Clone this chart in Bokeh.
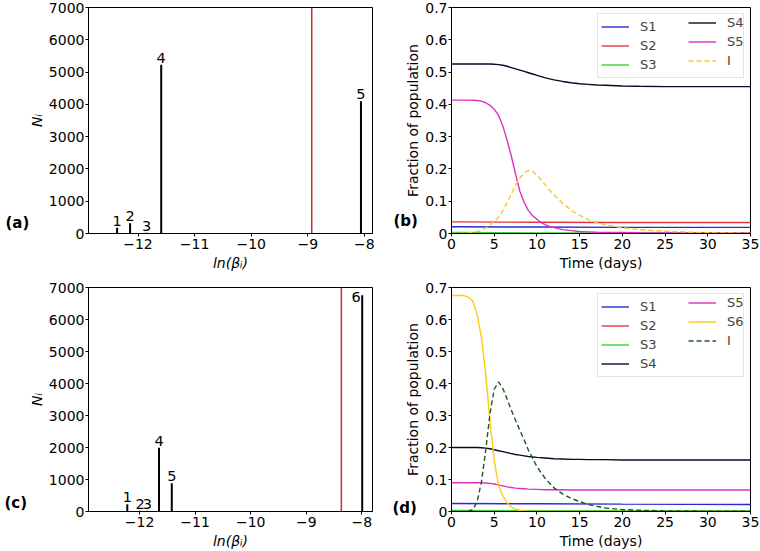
from bokeh.plotting import figure
from bokeh.layouts import gridplot
from bokeh.models import Span, Legend, LegendItem, FixedTicker, Range1d, Label
from bokeh.embed import file_html
from bokeh.resources import INLINE
from bokeh.core.properties import value

FONT = "DejaVu Sans"

# ---------------- data ----------------
# panel (a): stem plot
a_x = [-12.37, -12.14, -11.85, -11.59, -8.06]
a_n = [180, 320, 25, 5230, 4100]
a_lab = ["1", "2", "3", "4", "5"]
a_thr = -8.93

# panel (c): stem plot
c_x = [-12.22, -11.99, -11.86, -11.65, -11.42, -7.995]
c_n = [230, 20, 20, 1990, 880, 6760]
c_lab = ["1", "2", "3", "4", "5", "6"]
c_thr = -8.37

beta_ticks = [-12, -11, -10, -9, -8]
beta_tick_labels = ["\u221212", "\u221211", "\u221210", "\u22129", "\u22128"]
n_ticks = [0, 1000, 2000, 3000, 4000, 5000, 6000, 7000]

time_ticks = [0, 5, 10, 15, 20, 25, 30, 35]
frac_ticks = [0, 0.1, 0.2, 0.3, 0.4, 0.5, 0.6, 0.7]
frac_tick_labels = ["0", "0.1", "0.2", "0.3", "0.4", "0.5", "0.6", "0.7"]

# panel (b): time series
t_b = [0, 1, 2, 3, 3.5, 4, 4.5, 5, 5.5, 6, 6.5, 7, 7.5, 8, 8.5, 9, 9.5, 10,
       10.5, 11, 11.5, 12, 13, 14, 15, 16, 17, 18, 20, 22, 25, 28, 31, 35]
s4_b = [0.525, 0.525, 0.525, 0.525, 0.525, 0.525, 0.525, 0.524, 0.523, 0.521,
        0.518, 0.514, 0.510, 0.506, 0.502, 0.498, 0.494, 0.490, 0.486, 0.482,
        0.479, 0.476, 0.471, 0.467, 0.464, 0.462, 0.460, 0.459, 0.457, 0.456,
        0.455, 0.455, 0.455, 0.455]
s5_b = [0.413, 0.413, 0.413, 0.412, 0.410, 0.405, 0.397, 0.385, 0.366, 0.334,
        0.290, 0.240, 0.184, 0.131, 0.097, 0.071, 0.055, 0.044, 0.034, 0.027,
        0.022, 0.018, 0.012, 0.009, 0.006, 0.005, 0.004, 0.0035, 0.003, 0.0025,
        0.002, 0.002, 0.002, 0.002]
i_b = [0.0, 0.0005, 0.002, 0.006, 0.010, 0.017, 0.026, 0.037, 0.050, 0.070,
       0.095, 0.122, 0.150, 0.172, 0.188, 0.195, 0.192, 0.181, 0.166, 0.150,
       0.134, 0.120, 0.094, 0.072, 0.056, 0.043, 0.034, 0.027, 0.018, 0.012,
       0.007, 0.004, 0.002, 0.001]
t_flat = [0, 10, 20, 35]
s1_b = [0.021, 0.020, 0.019, 0.019]
s2_b = [0.036, 0.035, 0.034, 0.034]
s3_b = [0.003, 0.002, 0.002, 0.002]

# panel (d): time series
t_d = [0, 1, 1.5, 2, 2.5, 3, 3.5, 4, 4.5, 5, 5.5, 6, 6.5, 7, 7.5, 8, 8.5, 9,
       10, 11, 12, 13, 14, 15, 16, 17, 18, 20, 22, 25, 28, 31, 35]
s6_d = [0.675, 0.675, 0.674, 0.670, 0.657, 0.615, 0.545, 0.430, 0.282, 0.160,
        0.082, 0.050, 0.027, 0.014, 0.007, 0.004, 0.002, 0.001, 0.0005, 0.0,
        0.0, 0.0, 0.0, 0.0, 0.0, 0.0, 0.0, 0.0, 0.0, 0.0, 0.0, 0.0, 0.0]
i_d = [0.0, 0.0005, 0.001, 0.002, 0.006, 0.030, 0.092, 0.190, 0.305, 0.382,
       0.405, 0.385, 0.352, 0.317, 0.285, 0.254, 0.224, 0.192, 0.140, 0.102,
       0.074, 0.055, 0.041, 0.031, 0.022, 0.016, 0.011, 0.006, 0.004, 0.002,
       0.0015, 0.001, 0.001]
s4_d = [0.200, 0.200, 0.200, 0.200, 0.200, 0.200, 0.199, 0.198, 0.196, 0.193,
        0.190, 0.187, 0.184, 0.181, 0.178, 0.176, 0.174, 0.172, 0.169, 0.167,
        0.165, 0.164, 0.163, 0.163, 0.162, 0.162, 0.162, 0.161, 0.161, 0.161,
        0.161, 0.161, 0.161]
s5_d = [0.090, 0.090, 0.090, 0.090, 0.090, 0.090, 0.090, 0.089, 0.088, 0.086,
        0.083, 0.080, 0.077, 0.075, 0.073, 0.072, 0.071, 0.070, 0.069, 0.068,
        0.068, 0.068, 0.067, 0.067, 0.067, 0.067, 0.067, 0.067, 0.067, 0.067,
        0.067, 0.067, 0.067]
s1_d = [0.025, 0.024, 0.023, 0.022]
s2_d = [0.002, 0.0015, 0.0015, 0.0015]
s3_d = [0.003, 0.0025, 0.0025, 0.0025]

# ---------------- styling ----------------
C_S1 = "#2a2ad4"
C_S2 = "#e83434"
C_S3 = "#3ccf3c"
C_S4 = "#0a0a28"
C_S5 = "#de30bf"
C_IB = "#f7c62a"
C_S6 = "#ffcc11"
C_ID = "#1e5a1e"
C_THR = "#d42a2a"


def style(p):
    for ax in (p.xaxis[0], p.yaxis[0]):
        ax.major_tick_out = 3
        ax.major_tick_in = 0
        ax.minor_tick_out = 0
        ax.minor_tick_in = 0
        ax.major_label_text_font = FONT
        ax.major_label_text_font_size = "14px"
        ax.major_label_text_color = "black"
        ax.axis_label_text_font = FONT
        ax.axis_label_text_font_size = "14px"
        ax.axis_label_text_color = "black"
        ax.axis_label_text_font_style = "normal"
        ax.axis_line_color = "black"
        ax.major_tick_line_color = "black"
        ax.major_label_standoff = 2
        ax.axis_label_standoff = 3
    p.yaxis.major_label_standoff = 1
    p.yaxis.axis_label_standoff = 1
    p.xgrid.visible = False
    p.ygrid.visible = False
    p.outline_line_color = "black"
    p.background_fill_color = "white"
    p.border_fill_color = "white"


def make_fig(width, height, xr, yr, borders):
    bl, br, bt, bb = borders
    p = figure(width=width, height=height, x_range=Range1d(*xr),
               y_range=Range1d(*yr), output_backend="svg",
               toolbar_location=None, min_border_left=bl, min_border_right=br,
               min_border_top=bt, min_border_bottom=bb)
    style(p)
    return p


def panel_tag(p, txt, xr, yr, width, height, borders, dx_px, dy_px):
    # bold panel tag in the left border: left edge dx_px left of the frame,
    # middle dy_px above the frame bottom
    bl, br, bt, bb = borders
    fw = width - bl - br
    fh = height - bt - bb
    x = xr[0] - dx_px * (xr[1] - xr[0]) / fw
    y = yr[0] + dy_px * (yr[1] - yr[0]) / fh
    p.add_layout(Label(x=x, y=y, x_units="data", y_units="data", text=txt,
                       text_font=FONT, text_font_style="bold",
                       text_font_size="15px", text_color="black",
                       text_baseline="middle", text_align="left"), "left")


def stem_panel(xs, ns, labs, thr, xr, width, height, borders, special_last=False):
    p = make_fig(width, height, xr, (0, 7000), borders)
    p.segment(x0=xs, y0=[0] * len(xs), x1=xs, y1=ns, line_width=2, line_color="black")
    p.add_layout(Span(location=thr, dimension="height", line_color=C_THR, line_width=1.5))
    n_norm = len(xs) - 1 if special_last else len(xs)
    p.text(x=xs[:n_norm], y=ns[:n_norm], text=labs[:n_norm], text_align="center",
           text_baseline="bottom", y_offset=-2, text_font=value(FONT),
           text_font_size="14.5px", text_color="black")
    if special_last:
        p.text(x=xs[n_norm:], y=ns[n_norm:], text=labs[n_norm:], text_align="center",
               text_baseline="bottom", x_offset=-6, y_offset=7, text_font=value(FONT),
               text_font_size="14.5px", text_color="black")
    p.xaxis.ticker = FixedTicker(ticks=beta_ticks)
    p.xaxis.major_label_overrides = dict(zip(beta_ticks, beta_tick_labels))
    p.yaxis.ticker = FixedTicker(ticks=n_ticks)
    p.xaxis.axis_label = "ln(\u03b2\u1d62)"
    p.yaxis.axis_label = "N\u1d62"
    p.xaxis.axis_label_text_font_style = "italic"
    p.yaxis.axis_label_text_font_style = "italic"
    return p


def legend(items, label_width, boxed):
    return Legend(items=items, location="top_right", orientation="vertical",
                  label_text_font=FONT, label_text_font_size="13px",
                  glyph_width=28, glyph_height=19, label_standoff=11,
                  label_width=label_width, label_height=19, spacing=0,
                  padding=3, margin=6,
                  border_line_color="#cccccc" if boxed else None,
                  border_line_width=1,
                  background_fill_color="white",
                  background_fill_alpha=0.8 if boxed else 0.0)


def time_panel(series, ncol1, width, height, borders):
    p = make_fig(width, height, (0, 35), (0, 0.7), borders)
    items = []
    for name, tx, ys, col, dash in series:
        r = p.line(tx, ys, line_color=col, line_width=1.4, line_dash=dash)
        items.append(LegendItem(label=name, renderers=[r]))
    p.xaxis.ticker = FixedTicker(ticks=time_ticks)
    p.yaxis.ticker = FixedTicker(ticks=frac_ticks)
    p.yaxis.major_label_overrides = dict(zip(frac_ticks, frac_tick_labels))
    p.xaxis.axis_label = "Time (days)"
    p.yaxis.axis_label = "Fraction of population"
    # two-column legend: a framed first column, a second column laid over it
    p.add_layout(legend(items[:ncol1], 100, True))
    p.add_layout(legend(items[ncol1:], 17, False))
    return p


W_L, W_R = 375, 385
H_1, H_2 = 275, 276
B_A = (88, 3, 7, 42)
B_B = (76, 10, 7, 42)
B_C = (88, 3, 12, 39)
B_D = (76, 10, 12, 39)
XR_A = (-12.875, -7.856)
XR_C = (-12.918, -7.81)
YR_N = (0, 7000)
YR_F = (0, 0.7)
XR_T = (0, 35)

pa = stem_panel(a_x, a_n, a_lab, a_thr, XR_A, W_L, H_1, B_A)
panel_tag(pa, "(a)", XR_A, YR_N, W_L, H_1, B_A, 83, 11)
pc = stem_panel(c_x, c_n, c_lab, c_thr, XR_C, W_L, H_2, B_C, special_last=True)
panel_tag(pc, "(c)", XR_C, YR_N, W_L, H_2, B_C, 84, 9)

pb = time_panel([
    ("S1", t_flat, s1_b, C_S1, "solid"),
    ("S2", t_flat, s2_b, C_S2, "solid"),
    ("S3", t_flat, s3_b, C_S3, "solid"),
    ("S4", t_b, s4_b, C_S4, "solid"),
    ("S5", t_b, s5_b, C_S5, "solid"),
    ("I", t_b, i_b, C_IB, "5 3"),
], 3, W_R, H_1, B_B)
panel_tag(pb, "(b)", XR_T, YR_F, W_R, H_1, B_B, 58, 13)

pd = time_panel([
    ("S1", t_flat, s1_d, C_S1, "solid"),
    ("S2", t_flat, s2_d, C_S2, "solid"),
    ("S3", t_flat, s3_d, C_S3, "solid"),
    ("S4", t_d, s4_d, C_S4, "solid"),
    ("S5", t_d, s5_d, C_S5, "solid"),
    ("S6", t_d, s6_d, C_S6, "solid"),
    ("I", t_d, i_d, C_ID, "5 3"),
], 4, W_R, H_2, B_D)
panel_tag(pd, "(d)", XR_T, YR_F, W_R, H_2, B_D, 59, 4)

grid = gridplot([[pa, pb], [pc, pd]], toolbar_location=None)

open("out.html", "w").write(file_html(grid, INLINE))
